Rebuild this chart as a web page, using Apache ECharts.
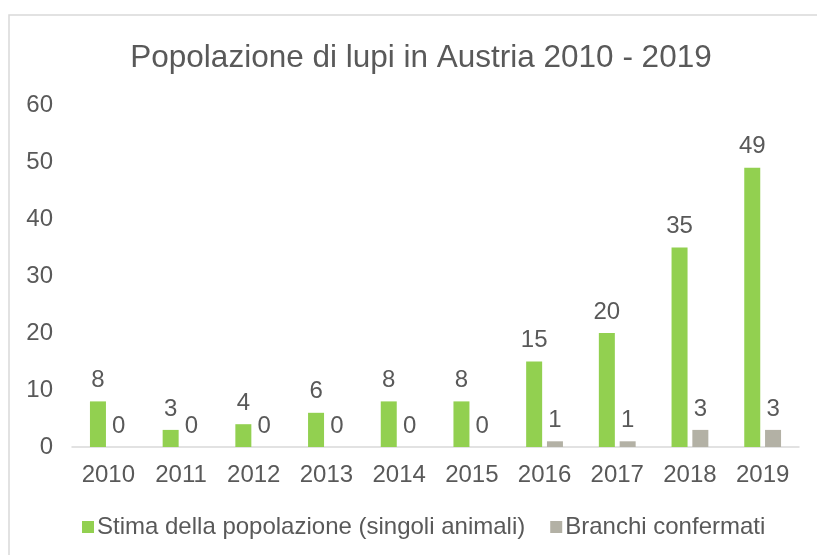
<!DOCTYPE html>
<html>
<head>
<meta charset="utf-8">
<script src="https://cdn.jsdelivr.net/npm/echarts@6/dist/echarts.min.js"></script>
<style>
  html, body { margin: 0; padding: 0; background: #fff; }
  #main { width: 817px; height: 555px; }
</style>
</head>
<body>
<div id="main"></div>
<script>
// years on the x axis
const years = ['2010', '2011', '2012', '2013', '2014', '2015', '2016', '2017', '2018', '2019']
// estimated wolves (single animals)
const stima = [8, 3, 4, 6, 8, 8, 15, 20, 35, 49]
// confirmed packs
const branchi = [0, 0, 0, 0, 0, 0, 1, 1, 3, 3]

const textColor = '#595959'
const font = 'Liberation Sans, Arial, sans-serif'

const chart = echarts.init(document.getElementById('main'))

const labelStyle = {
  show: true,
  position: 'top',
  distance: 9,
  color: textColor,
  fontSize: 24,
  fontFamily: font
}

chart.setOption({
  animation: false,
  textStyle: { fontFamily: font },
  graphic: [{
    type: 'rect',
    shape: { x: 9, y: 15, width: 900, height: 600 },
    style: { fill: 'none', stroke: '#d9d9d9', lineWidth: 1.5 },
    silent: true
  }],
  title: {
    text: 'Popolazione di lupi in Austria 2010 - 2019',
    left: 416,
    textAlign: 'center',
    top: 37,
    textStyle: { color: textColor, fontSize: 31.5, fontWeight: 'normal', fontFamily: font }
  },
  legend: {
    top: 510,
    left: 77,
    orient: 'horizontal',
    itemWidth: 12,
    itemHeight: 12,
    itemGap: 25,
    icon: 'rect',
    textStyle: { color: textColor, fontSize: 24, fontFamily: font, padding: [0, 0, 0, -2] },
    data: ['Stima della popolazione (singoli animali)', 'Branchi confermati']
  },
  grid: { left: 72, right: 18, top: 105, bottom: 108, containLabel: false },
  xAxis: {
    type: 'category',
    data: years,
    axisLine: { lineStyle: { color: '#d9d9d9', width: 1.5 } },
    axisTick: { show: false },
    axisLabel: { color: textColor, fontSize: 24, margin: 16, fontFamily: font }
  },
  yAxis: {
    type: 'value',
    min: 0,
    max: 60,
    interval: 10,
    splitLine: { show: false },
    axisLine: { show: false },
    axisTick: { show: false },
    axisLabel: { color: textColor, fontSize: 24, margin: 19, fontFamily: font }
  },
  series: [
    {
      name: 'Stima della popolazione (singoli animali)',
      type: 'bar',
      data: stima,
      barWidth: 16,
      barGap: '30%',
      itemStyle: { color: '#92d050' },
      label: labelStyle
    },
    {
      name: 'Branchi confermati',
      type: 'bar',
      data: branchi,
      barWidth: 16,
      itemStyle: { color: '#b3b1a5' },
      label: labelStyle
    }
  ]
})
</script>
</body>
</html>
